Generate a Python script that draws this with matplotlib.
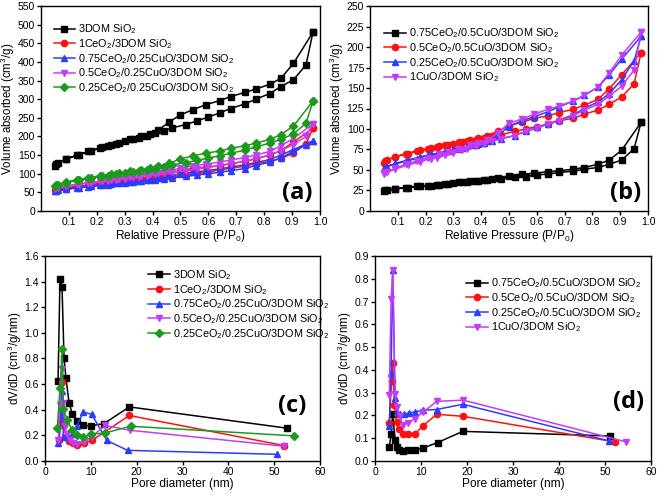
import numpy as np
import matplotlib
matplotlib.use("Agg")
from matplotlib import pyplot as plt

plt.rcParams['font.family'] = ['Liberation Sans', 'DejaVu Sans']
plt.rcParams['mathtext.default'] = 'regular'

# ---- (a)/(b) N2 isotherms: shared pressure grids
P_ADS = [0.05, 0.06, 0.09, 0.135, 0.18, 0.22, 0.24, 0.27, 0.30, 0.33, 0.35, 0.38, 0.41, 0.44,
         0.47, 0.52, 0.56, 0.60, 0.64, 0.68, 0.73, 0.77, 0.82, 0.86, 0.905, 0.95, 0.975]
P_DES = [0.975, 0.905, 0.86, 0.82, 0.77, 0.73, 0.68, 0.64, 0.59, 0.545, 0.50, 0.46, 0.42,
         0.39, 0.36, 0.32, 0.28, 0.25, 0.21, 0.17, 0.13, 0.09, 0.055]

labels_a = ['3DOM SiO$_2$', '1CeO$_2$/3DOM SiO$_2$', '0.75CeO$_2$/0.25CuO/3DOM SiO$_2$',
            '0.5CeO$_2$/0.25CuO/3DOM SiO$_2$', '0.25CeO$_2$/0.25CuO/3DOM SiO$_2$']
ads_a = [
    [122, 128, 140, 151, 162, 171, 175, 181, 187, 192, 196, 202, 208, 215, 223, 232, 242, 252, 263, 275, 287, 300, 315, 334, 352, 392, 480],
    [57, 59, 62, 66, 70, 73, 74, 77, 79, 81, 83, 85, 87, 89, 92, 97, 101, 105, 110, 115, 120, 127, 133, 141, 155, 180, 222],
    [53, 55, 59, 63, 67, 70, 71, 74, 76, 78, 80, 82, 84, 86, 89, 93, 97, 100, 104, 108, 114, 122, 131, 143, 160, 178, 188],
    [60, 62, 66, 71, 76, 80, 81, 84, 87, 90, 92, 95, 98, 101, 104, 108, 113, 117, 122, 127, 133, 141, 150, 162, 178, 200, 233],
    [67, 70, 76, 82, 88, 93, 95, 98, 102, 105, 107, 110, 114, 118, 124, 130, 136, 142, 148, 155, 163, 172, 182, 192, 207, 235, 295],
]
des_a = [
    [480, 396, 356, 340, 327, 318, 307, 296, 285, 272, 258, 239, 217, 207, 200, 192, 183, 177, 168, 160, 150, 139, 126],
    [222, 185, 162, 150, 140, 133, 127, 122, 117, 112, 107, 100, 94, 90, 87, 84, 80, 77, 73, 69, 65, 61, 57],
    [188, 165, 150, 138, 130, 124, 118, 113, 108, 104, 100, 93, 88, 84, 81, 78, 75, 72, 69, 65, 62, 58, 54],
    [233, 195, 175, 160, 150, 143, 137, 131, 126, 121, 115, 108, 102, 98, 95, 91, 87, 84, 80, 76, 72, 67, 62],
    [295, 228, 205, 192, 182, 175, 168, 161, 155, 148, 140, 128, 120, 115, 111, 106, 101, 98, 94, 89, 84, 78, 70],
]

labels_b = ['0.75CeO$_2$/0.5CuO/3DOM SiO$_2$', '0.5CeO$_2$/0.5CuO/3DOM SiO$_2$',
            '0.25CeO$_2$/0.5CuO/3DOM SiO$_2$', '1CuO/3DOM SiO$_2$']
ads_b = [
    [24, 25, 27, 28.5, 30, 31, 31.5, 33, 34, 35, 35.5, 36.5, 37.5, 38.5, 39.5, 41, 42, 44, 45, 47, 48.5, 51, 53, 57, 62, 76, 108],
    [59, 62, 66, 70, 74, 77, 78, 80, 82, 84, 85, 87, 89, 91, 93, 97, 100, 103, 106, 110, 113, 118, 123, 130, 139, 155, 193],
    [53, 54, 58, 62, 66, 69, 70, 73, 75, 77, 79, 81, 83, 85, 88, 92, 97, 102, 106, 111, 117, 125, 133, 143, 160, 183, 213],
    [45, 47, 51, 56, 60, 64, 65, 68, 71, 74, 76, 79, 82, 85, 88, 92, 97, 101, 106, 110, 116, 123, 130, 140, 152, 172, 218],
]
des_b = [
    [108, 74, 62, 57, 53, 51, 49, 48, 46, 45, 43, 40, 38, 37, 36, 35, 33.5, 32, 31, 30, 28.5, 27, 25],
    [193, 166, 149, 136, 129, 124, 120, 116, 113, 108, 104, 97, 92, 89, 87, 84, 81, 79, 76, 73, 70, 66, 61],
    [213, 185, 166, 151, 141, 134, 127, 121, 115, 110, 103, 92, 85, 82, 80, 76, 73, 71, 68, 64, 61, 57, 54],
    [218, 190, 168, 151, 141, 134, 128, 124, 118, 112, 107, 95, 86, 83, 80, 76, 72, 69, 65, 61, 57, 52, 47],
]

# ---- (c)/(d) pore size distributions
d_c = [
    [2.84, 3.27, 3.71, 4.15, 4.58, 5.24, 5.96, 6.91, 8.37, 9.96, 12.87, 18.4, 52.8],
    [3.1, 3.45, 3.75, 4.1, 4.6, 5.2, 6.0, 6.9, 8.4, 10.2, 18.4, 52.2],
    [2.91, 3.49, 3.7, 4.0, 5.0, 6.0, 6.9, 8.37, 10.2, 13.5, 18.0, 50.6],
    [2.91, 3.2, 3.64, 4.0, 4.3, 4.73, 5.4, 6.2, 7.0, 8.4, 10.2, 13.1, 18.5, 52.2],
    [2.69, 3.27, 3.78, 4.0, 4.9, 5.82, 6.9, 8.37, 9.96, 13.1, 18.7, 54.4],
]
v_c = [
    [0.625, 1.42, 1.36, 0.805, 0.644, 0.456, 0.365, 0.313, 0.277, 0.274, 0.292, 0.422, 0.256],
    [0.16, 0.31, 0.62, 0.28, 0.19, 0.155, 0.14, 0.125, 0.14, 0.16, 0.355, 0.12],
    [0.14, 0.37, 0.55, 0.19, 0.19, 0.21, 0.27, 0.383, 0.363, 0.16, 0.083, 0.052],
    [0.16, 0.44, 0.715, 0.45, 0.27, 0.21, 0.16, 0.14, 0.135, 0.145, 0.19, 0.277, 0.24, 0.115],
    [0.258, 0.57, 0.873, 0.404, 0.318, 0.245, 0.20, 0.185, 0.209, 0.219, 0.271, 0.196],
]

d_d = [
    [3.1, 3.5, 3.85, 4.35, 4.7, 5.2, 6.0, 7.1, 8.6, 10.5, 13.6, 19.1, 51.0],
    [3.1, 3.6, 3.85, 4.2, 4.7, 5.3, 6.0, 7.1, 8.6, 10.4, 13.4, 19.2, 52.1],
    [3.1, 3.5, 3.85, 4.35, 4.7, 5.4, 6.3, 7.4, 8.6, 10.5, 13.4, 19.1, 50.9],
    [3.1, 3.5, 3.85, 4.35, 4.7, 5.4, 6.0, 7.1, 8.6, 10.4, 13.4, 19.2, 54.6],
]
v_d = [
    [0.062, 0.117, 0.208, 0.091, 0.062, 0.05, 0.044, 0.047, 0.047, 0.057, 0.081, 0.13, 0.11],
    [0.167, 0.352, 0.43, 0.245, 0.169, 0.14, 0.117, 0.117, 0.117, 0.154, 0.205, 0.196, 0.084],
    [0.152, 0.387, 0.84, 0.276, 0.217, 0.205, 0.205, 0.211, 0.215, 0.223, 0.226, 0.249, 0.088],
    [0.29, 0.71, 0.84, 0.296, 0.238, 0.198, 0.157, 0.167, 0.186, 0.213, 0.262, 0.267, 0.084],
]

colors5 = ['#000000', '#ff1010', '#2b3cff', '#c43cf5', '#1c9a1c']
markers5 = ['s', 'o', '^', 'v', 'D']
msizes5 = [4.5, 4.5, 4.5, 4.5, 3.8]
colors4 = ['#000000', '#ff1010', '#2b3cff', '#c43cf5']
markers4 = ['s', 'o', '^', 'v']


def style(ax, xlabel, ylabel, tag, tag_xy):
    ax.set_xlabel(xlabel, fontsize=8.6, labelpad=1)
    ax.set_ylabel(ylabel, fontsize=8.3, labelpad=0.5)
    ax.tick_params(direction='out', length=3, width=1, labelsize=7.5, pad=1.2,
                   top=False, right=False)
    for s in ax.spines.values():
        s.set_linewidth(1)
    ax.text(tag_xy[0], tag_xy[1], tag, transform=ax.transAxes, fontsize=17,
            fontweight='bold', family='Open Sans', ha='center', va='center')


def legend(ax, anchor):
    ax.legend(loc='upper left', bbox_to_anchor=anchor, frameon=False, fontsize=7.8,
              handlelength=2.0, handletextpad=0.3, labelspacing=0.08, borderpad=0,
              borderaxespad=0)


fig = plt.figure(figsize=(6.6, 4.96), dpi=100)
ax_a = fig.add_axes([0.0621, 0.5746, 0.4227, 0.4133])
ax_b = fig.add_axes([0.5606, 0.5746, 0.4212, 0.4133])
ax_c = fig.add_axes([0.0682, 0.0706, 0.4167, 0.4133])
ax_d = fig.add_axes([0.5682, 0.0706, 0.4182, 0.4133])

for i in range(5):
    x = P_ADS + P_DES
    y = ads_a[i] + des_a[i]
    ax_a.plot(x, y, color=colors5[i], marker=markers5[i], ms=msizes5[i], lw=1.1,
              label=labels_a[i])
ax_a.set_xlim(0, 1.0)
ax_a.set_ylim(0, 550)
ax_a.set_xticks(np.arange(0.1, 1.01, 0.1))
ax_a.set_yticks(np.arange(0, 551, 50))
style(ax_a, 'Relative Pressure (P/P$_0$)', 'Volume absorbed (cm$^3$/g)', '(a)', (0.92, 0.09))
legend(ax_a, (0.045, 0.92))

for i in range(4):
    x = P_ADS + P_DES
    y = ads_b[i] + des_b[i]
    ax_b.plot(x, y, color=colors4[i], marker=markers4[i], ms=4.5, lw=1.1, label=labels_b[i])
ax_b.set_xlim(0, 1.0)
ax_b.set_ylim(0, 250)
ax_b.set_xticks(np.arange(0.1, 1.01, 0.1))
ax_b.set_yticks(np.arange(0, 251, 25))
style(ax_b, 'Relative Pressure (P/P$_0$)', 'Volume absorbed (cm$^3$/g)', '(b)', (0.92, 0.09))
legend(ax_b, (0.05, 0.9))

for i in range(5):
    ax_c.plot(d_c[i], v_c[i], color=colors5[i], marker=markers5[i], ms=msizes5[i], lw=1.1,
              label=labels_a[i])
ax_c.set_xlim(0, 60)
ax_c.set_ylim(0, 1.6)
ax_c.set_xticks(np.arange(0, 61, 10))
ax_c.set_yticks(np.arange(0, 1.61, 0.2))
ax_c.yaxis.set_major_formatter(matplotlib.ticker.FormatStrFormatter('%.1f'))
style(ax_c, 'Pore diameter (nm)', 'dV/dD (cm$^3$/g/nm)', '(c)', (0.9, 0.27))
legend(ax_c, (0.375, 0.94))

for i in range(4):
    ax_d.plot(d_d[i], v_d[i], color=colors4[i], marker=markers4[i], ms=4.5, lw=1.1,
              label=labels_b[i])
ax_d.set_xlim(0, 60)
ax_d.set_ylim(0, 0.9)
ax_d.set_xticks(np.arange(0, 61, 10))
ax_d.set_yticks(np.arange(0, 0.91, 0.1))
ax_d.yaxis.set_major_formatter(matplotlib.ticker.FormatStrFormatter('%.1f'))
style(ax_d, 'Pore diameter (nm)', 'dV/dD (cm$^3$/g/nm)', '(d)', (0.92, 0.29))
legend(ax_d, (0.33, 0.9))

fig.savefig('out.png', dpi=100)
